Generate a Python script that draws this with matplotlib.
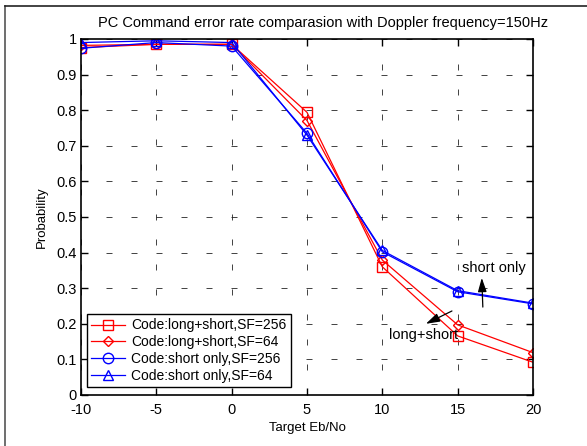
import matplotlib
matplotlib.use("Agg")
import matplotlib.pyplot as plt
from matplotlib.lines import Line2D

# target Eb/No points and detection probabilities for each code setup
eb_no = [-10, -5, 0, 5, 10, 15, 20]
long_short_256 = [0.976, 0.985, 0.985, 0.794, 0.36, 0.166, 0.092]
long_short_64 = [0.982, 0.985, 0.985, 0.771, 0.379, 0.197, 0.119]
short_only_256 = [0.974, 0.99, 0.98, 0.735, 0.402, 0.29, 0.256]
short_only_64 = [0.99, 0.995, 0.99, 0.73, 0.406, 0.293, 0.258]

labels = ["Code:long+short,SF=256", "Code:long+short,SF=64",
          "Code:short only,SF=256", "Code:short only,SF=64"]

plt.rcParams['font.family'] = ['Liberation Sans', 'DejaVu Sans']
plt.rcParams['axes.unicode_minus'] = False

W, H = 587, 446
fig = plt.figure(figsize=(W / 100, H / 100), dpi=100)
ax = fig.add_axes([81 / W, (H - 395) / H, 452 / W, 356 / H])

ax.plot(eb_no, long_short_256, color='red', marker='s', mfc='none', ms=7, lw=0.9, label=labels[0])
ax.plot(eb_no, long_short_64, color='red', marker='D', mfc='none', ms=5.5, lw=0.9, label=labels[1])
ax.plot(eb_no, short_only_256, color='blue', marker='o', mfc='none', ms=7.5, lw=0.9, label=labels[2])
ax.plot(eb_no, short_only_64, color='blue', marker='^', mfc='none', ms=7.5, lw=0.9, label=labels[3])

ax.set_xlim(-10, 20)
ax.set_ylim(0, 1)
ax.set_xticks(range(-10, 21, 5))
ax.set_yticks([i / 10 for i in range(11)])
ax.set_yticklabels(["0", "0.1", "0.2", "0.3", "0.4", "0.5", "0.6", "0.7", "0.8", "0.9", "1"])
ax.tick_params(direction='in', top=True, right=True, labelsize=10.5, length=5, width=1)
ax.tick_params(axis='x', pad=6)
ax.tick_params(axis='y', pad=3)
ax.grid(True, color='#222222', linestyle=(0, (7.2, 22.8)), linewidth=0.6)
for s in ax.spines.values():
    s.set_linewidth(1.2)

fig.text(323 / W, 1 - 23 / H, "PC Command error rate comparasion with Doppler frequency=150Hz",
         fontsize=10.5, ha='center', va='center')
ax.set_xlabel("Target Eb/No", fontsize=9.5, labelpad=3)
ax.set_ylabel("Probability", fontsize=9.5, labelpad=6)

arrow = dict(arrowstyle='-|>,head_length=0.7,head_width=0.22', color='black',
             lw=0.9, mutation_scale=12, shrinkA=0, shrinkB=0)
ax.annotate("", xy=(16.6, 0.329), xytext=(16.67, 0.247), arrowprops=arrow)
ax.text(15.28, 0.357, "short only", fontsize=10.5, va='center')
ax.annotate("", xy=(12.89, 0.2), xytext=(14.62, 0.236), arrowprops=arrow)
ax.text(10.44, 0.169, "long+short", fontsize=10.5, va='center')

leg = ax.legend(loc='lower left', bbox_to_anchor=(6 / 452, 8 / 356), fontsize=10, frameon=True,
                fancybox=False, edgecolor='black', framealpha=1, borderpad=0.3,
                labelspacing=0.2, handlelength=2.4, handletextpad=0.5, borderaxespad=0)
leg.get_frame().set_linewidth(1.0)

# outer frame: left and top edges only
fig.add_artist(Line2D([4.5 / W, 4.5 / W], [0, 1 - 6 / H], transform=fig.transFigure,
                      color='#555555', lw=1.2))
fig.add_artist(Line2D([4.5 / W, 1], [1 - 6 / H, 1 - 6 / H], transform=fig.transFigure,
                      color='#222222', lw=1.2))

fig.savefig("out.png", dpi=100)
